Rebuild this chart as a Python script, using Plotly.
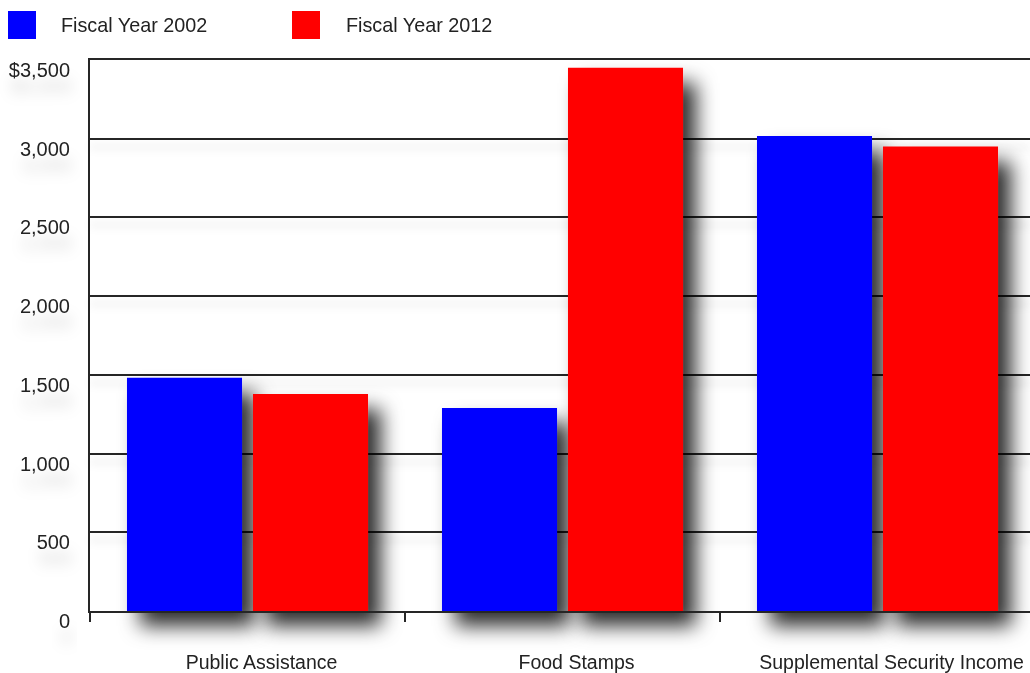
import plotly.graph_objects as go

# ---- data ----
categories = ["Public Assistance", "Food Stamps", "Supplemental Security Income"]
fy2002 = [1481, 1290, 3018]
fy2012 = [1379, 3451, 2951]
series_names = ["Fiscal Year 2002", "Fiscal Year 2012"]
y_tickvals = [0, 500, 1000, 1500, 2000, 2500, 3000, 3500]
y_ticktext = ["0", "500", "1,000", "1,500", "2,000", "2,500", "3,000", "$3,500"]

# ---- layout constants ----
W, H = 1030, 673
ML, MR, MT, MB = 90, 0, 60, 62
PW, PH = W - ML - MR, H - MT - MB
FONT = "Liberation Sans, Arial, sans-serif"
TXT = "#222222"
LINE = "#262626"
BLUE = "#0000ff"
RED = "#ff0000"


def px_x(px):
    return (px - ML) / PW


def px_y(py):
    return (H - MB - py) / PH


fig = go.Figure()
fig.add_trace(go.Bar(x=categories, y=fy2002, name=series_names[0],
                     marker=dict(color=BLUE, line=dict(width=0)), showlegend=False))
fig.add_trace(go.Bar(x=categories, y=fy2012, name=series_names[1],
                     marker=dict(color=RED, line=dict(width=0)), showlegend=False))

# manual legend (large square swatches)
shapes = []
annotations = []
legend_items = [(series_names[0], BLUE, 8, 59), (series_names[1], RED, 292, 344)]
for name, col, sx, tx in legend_items:
    shapes.append(dict(type="rect", xref="paper", yref="paper",
                       x0=px_x(sx), x1=px_x(sx + 28), y0=px_y(39), y1=px_y(11),
                       fillcolor=col, line=dict(width=0), layer="above"))
    annotations.append(dict(text=name, xref="paper", yref="paper",
                            x=px_x(tx), y=px_y(25), xanchor="left", yanchor="middle",
                            showarrow=False, font=dict(family=FONT, size=19.8, color=TXT)))

fig.update_layout(
    width=W, height=H,
    margin=dict(l=ML, r=MR, t=MT, b=MB, pad=0),
    paper_bgcolor="white", plot_bgcolor="white",
    barmode="group", bargap=0.2, bargroupgap=0.087,
    font=dict(family=FONT, size=19.5, color=TXT),
    shapes=shapes, annotations=annotations,
    showlegend=False,
    xaxis=dict(
        range=[-0.5, -0.5 + PW / 315.0],
        showline=True, linecolor=LINE, linewidth=2, mirror=True,
        ticks="outside", tickson="boundaries", ticklen=9, tickwidth=2, tickcolor=LINE,
        showgrid=False, ticklabelstandoff=33, ticklabelshift=14,
        tickfont=dict(family=FONT, size=19.5, color=TXT),
    ),
    yaxis=dict(
        range=[0, 3500],
        tickvals=y_tickvals, ticktext=y_ticktext,
        showline=True, linecolor=LINE, linewidth=2,
        showgrid=True, gridcolor=LINE, gridwidth=2,
        zeroline=False, ticks="",
        ticklabelstandoff=14, ticklabelshift=10,
        tickfont=dict(family=FONT, size=20, color=TXT),
    ),
)

post = r"""
(function(){
  document.documentElement.style.margin = '0';
  document.body.style.margin = '0';
  document.body.style.padding = '0';
  var gd = document.getElementById('{plot_id}');
  var ns = 'http://www.w3.org/2000/svg';
  function mkFilter(defs, id, dx, dy, sd, op, box){
    if (document.getElementById(id)) return;
    var f = document.createElementNS(ns, 'filter');
    f.setAttribute('id', id);
    f.setAttribute('x', box[0]); f.setAttribute('y', box[1]);
    f.setAttribute('width', box[2]); f.setAttribute('height', box[3]);
    var d = document.createElementNS(ns, 'feDropShadow');
    d.setAttribute('dx', dx); d.setAttribute('dy', dy);
    d.setAttribute('stdDeviation', sd);
    d.setAttribute('flood-color', '#000');
    d.setAttribute('flood-opacity', op);
    f.appendChild(d);
    defs.appendChild(f);
  }
  function apply(){
    var svg = gd.querySelector('svg.main-svg');
    if (!svg) return;
    var defs = svg.querySelector('defs');
    if (!defs) { defs = document.createElementNS(ns, 'defs'); svg.insertBefore(defs, svg.firstChild); }
    mkFilter(defs, 'barShadow', 13, 15, 10, 0.82, ['-30%','-30%','160%','160%']);
    mkFilter(defs, 'gridShadow', 0, 8, 4, 0.14, ['-5%','-10%','110%','130%']);
    mkFilter(defs, 'textShadow', 2, 16, 7, 0.18, ['-60%','-80%','220%','600%']);
    gd.querySelectorAll('.cartesianlayer [clip-path], .cartesianlayer g.plot').forEach(function(p){ p.removeAttribute('clip-path'); });
    gd.querySelectorAll('g.barlayer g.trace').forEach(function(g){ g.setAttribute('filter','url(#barShadow)'); });
    gd.querySelectorAll('g.gridlayer > g').forEach(function(g){ g.setAttribute('filter','url(#gridShadow)'); });
    gd.querySelectorAll('g.ytick text').forEach(function(t){ t.setAttribute('filter','url(#textShadow)'); });
  }
  apply();
  setTimeout(apply, 0);
  setTimeout(apply, 300);
  if (gd.on) gd.on('plotly_afterplot', apply);
})();
"""

fig.write_html("out.html", post_script=post, config={"displayModeBar": False})
